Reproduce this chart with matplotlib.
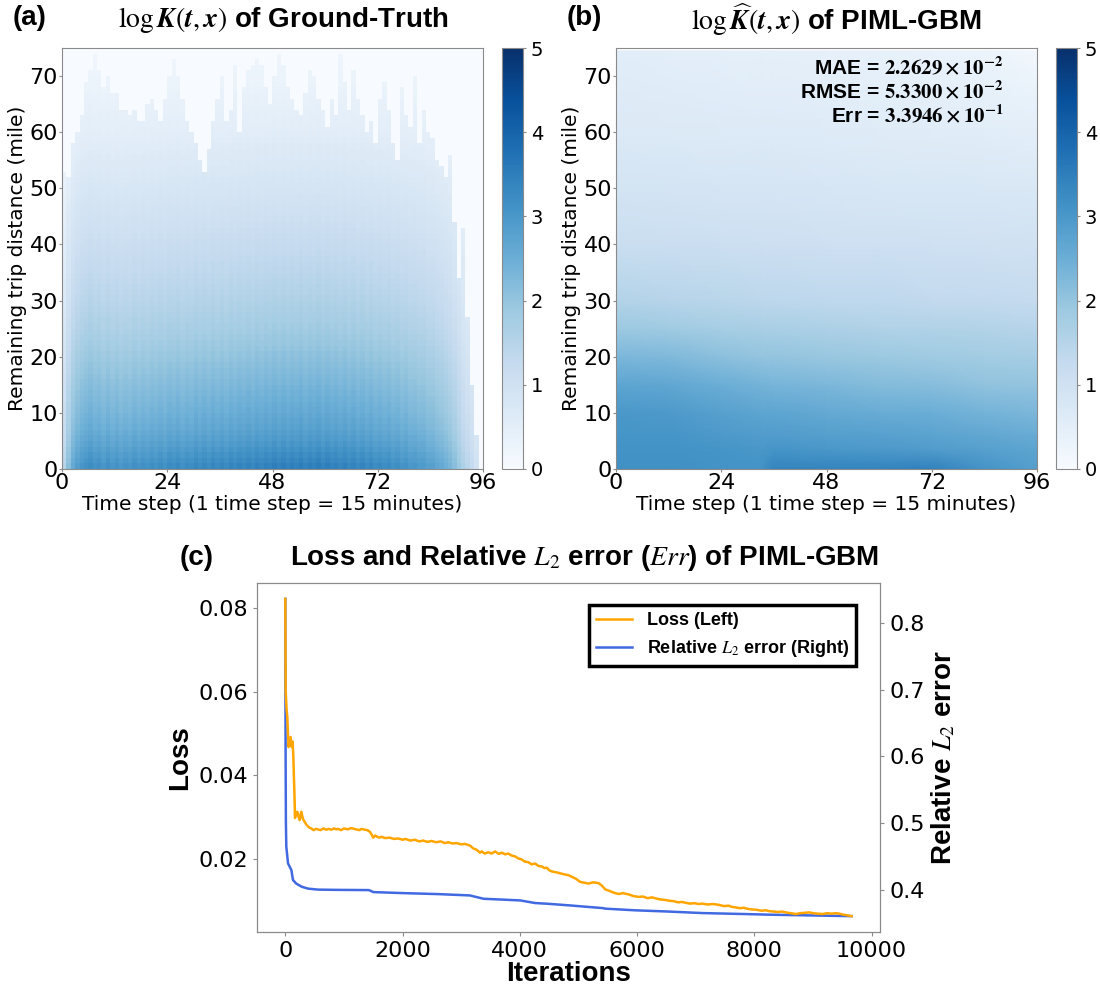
import numpy as np
import matplotlib
matplotlib.use("Agg")
from matplotlib import pyplot as plt

plt.rcParams['mathtext.fontset'] = 'stix'
plt.rcParams['font.family'] = ['DejaVu Sans']

# ---- (a) ground truth: column extents, column strength, row profile ----
gt_top = [53, 52, 58, 60, 63, 69, 71, 74, 71, 68,
          70, 67, 67, 64, 64, 63, 64, 62, 62, 65,
          66, 64, 62, 66, 70, 73, 70, 66, 62, 60,
          58, 55, 53, 57, 62, 66, 70, 62, 64, 72,
          60, 68, 71, 72, 73, 72, 68, 65, 70, 74,
          72, 68, 66, 64, 63, 67, 71, 70, 66, 64,
          61, 66, 63, 74, 69, 64, 71, 66, 63, 60,
          62, 58, 66, 69, 64, 58, 55, 68, 63, 61,
          70, 58, 64, 60, 59, 55, 54, 52, 56, 44,
          34, 43, 27, 15, 6, 0]
gt_scale = [0.45, 0.65, 0.80, 0.88, 0.93, 0.96, 0.99, 0.95, 0.97, 0.93,
            0.97, 0.93, 0.96, 0.92, 0.95, 0.93, 0.97, 0.94, 0.97, 0.95,
            0.98, 0.96, 0.99, 0.96, 1.00, 0.98, 1.01, 0.97, 1.00, 0.98,
            1.02, 0.99, 1.02, 0.99, 1.03, 1.00, 1.03, 1.00, 1.04, 1.01,
            1.04, 1.02, 1.05, 1.02, 1.06, 1.03, 1.06, 1.04, 1.07, 1.04,
            1.07, 1.04, 1.07, 1.05, 1.08, 1.04, 1.07, 1.05, 1.08, 1.04,
            1.07, 1.04, 1.06, 1.03, 1.06, 1.02, 1.05, 1.01, 1.04, 1.00,
            1.03, 0.99, 1.01, 0.98, 1.00, 0.96, 0.98, 0.94, 0.96, 0.92,
            0.93, 0.90, 0.90, 0.86, 0.86, 0.82, 0.80, 0.76, 0.72, 0.66,
            0.58, 0.50, 0.44, 0.38, 0.30, 0.0]
gt_row = [3.25, 3.15, 3.05, 2.95, 2.85, 2.76, 2.68, 2.61, 2.55, 2.49,
          2.44, 2.39, 2.34, 2.29, 2.24, 2.19, 2.14, 2.09, 2.04, 1.99,
          1.94, 1.89, 1.84, 1.79, 1.74, 1.70, 1.66, 1.62, 1.58, 1.54,
          1.50, 1.46, 1.43, 1.39, 1.36, 1.32, 1.29, 1.25, 1.22, 1.18,
          1.15, 1.11, 1.08, 1.04, 1.01, 0.97, 0.94, 0.90, 0.87, 0.83,
          0.80, 0.77, 0.74, 0.71, 0.68, 0.65, 0.62, 0.59, 0.56, 0.53,
          0.50, 0.475, 0.45, 0.425, 0.40, 0.375, 0.35, 0.325, 0.30, 0.275,
          0.25, 0.24, 0.23, 0.22, 0.21]

# ---- (b) PIML-GBM prediction on a coarse grid ----
pred_t = [0, 12, 24, 33, 36, 48, 60, 72, 84, 96]
pred_x = [0, 3.5, 6, 10, 15, 20, 25, 30, 40, 50, 60, 74.5]
pred_vals = [
    [3.15, 3.15, 3.10, 3.10, 3.40, 3.40, 3.40, 3.45, 3.10, 2.85],
    [3.10, 3.10, 3.05, 3.00, 3.05, 3.00, 2.95, 2.90, 2.80, 2.70],
    [3.05, 3.05, 2.95, 2.90, 2.90, 2.85, 2.80, 2.75, 2.65, 2.55],
    [3.00, 2.95, 2.80, 2.70, 2.70, 2.60, 2.55, 2.50, 2.40, 2.30],
    [2.70, 2.65, 2.50, 2.40, 2.35, 2.30, 2.20, 2.15, 2.05, 2.00],
    [2.30, 2.25, 2.10, 2.00, 2.00, 1.95, 1.90, 1.85, 1.80, 1.75],
    [1.90, 1.85, 1.75, 1.70, 1.70, 1.65, 1.60, 1.60, 1.55, 1.50],
    [1.55, 1.50, 1.45, 1.40, 1.40, 1.35, 1.35, 1.30, 1.30, 1.25],
    [1.15, 1.12, 1.10, 1.08, 1.08, 1.05, 1.05, 1.02, 1.00, 1.00],
    [0.90, 0.88, 0.85, 0.85, 0.85, 0.82, 0.80, 0.80, 0.78, 0.75],
    [0.70, 0.68, 0.66, 0.65, 0.65, 0.63, 0.60, 0.58, 0.55, 0.50],
    [0.55, 0.50, 0.47, 0.45, 0.45, 0.42, 0.40, 0.35, 0.28, 0.15],
]
metric_names = ["MAE", "RMSE", "Err"]
metric_vals = [r"2.2629\times10^{-2}", r"5.3300\times10^{-2}", r"3.3946\times10^{-1}"]

# ---- (c) training curves ----
loss_iter = [0, 3, 6, 20, 34, 45, 57, 70, 91, 100, 114, 125, 137, 150, 160, 165,
             185, 205, 225, 245, 260, 273,
             300, 330, 360, 380, 410, 444, 480, 520, 550, 600, 650, 700, 740, 786,
             830, 870, 900, 950, 1000, 1071, 1120, 1200, 1260, 1300, 1356, 1400,
             1442, 1470, 1499, 1530, 1560, 1600, 1641, 1700, 1780, 1850, 1926, 2000,
             2050, 2130, 2211, 2280, 2350, 2420, 2496, 2570, 2650, 2720, 2781, 2850,
             2920, 3000, 3066, 3150, 3208, 3250, 3280, 3320, 3350, 3400, 3464, 3520,
             3578, 3640, 3692, 3750, 3800, 3863, 3920, 3977, 4030, 4080, 4148, 4200,
             4260, 4320, 4376, 4420, 4460, 4500, 4547, 4620, 4700, 4760, 4832, 4890,
             4950, 5000, 5031, 5100, 5174, 5250, 5345, 5400, 5458, 5520, 5570, 5630,
             5686, 5760, 5857, 5940, 6028, 6100, 6180, 6256, 6330, 6400, 6470, 6541,
             6620, 6700, 6760, 6826, 6900, 6980, 7050, 7111, 7200, 7300, 7396, 7480,
             7560, 7620, 7681, 7750, 7820, 7900, 7966, 8050, 8120, 8200, 8251, 8330,
             8400, 8470, 8536, 8620, 8707, 8780, 8860, 8935, 9000, 9080, 9162, 9240,
             9310, 9390, 9450, 9500, 9580, 9660]
loss_val = [0.0822, 0.0700, 0.0603, 0.0560, 0.0539, 0.0500, 0.0467, 0.0485, 0.0491, 0.0470,
            0.0467, 0.0480, 0.0443, 0.0380, 0.0332, 0.0297, 0.0310, 0.0312, 0.0300, 0.0292,
            0.0305, 0.0312,
            0.0295, 0.0288, 0.0281, 0.0278, 0.0274, 0.0272, 0.0268, 0.0271, 0.0270, 0.0268,
            0.0272, 0.0269, 0.0271, 0.0269, 0.0272, 0.0270, 0.0271, 0.0268, 0.0272, 0.0270,
            0.0273, 0.0270, 0.0268, 0.0271, 0.0269, 0.0268, 0.0264, 0.0258, 0.0250, 0.0255,
            0.0253, 0.0250, 0.0252, 0.0249, 0.0250, 0.0247, 0.0248, 0.0245, 0.0247, 0.0243,
            0.0245, 0.0241, 0.0243, 0.0240, 0.0242, 0.0239, 0.0241, 0.0237, 0.0239, 0.0236,
            0.0237, 0.0234, 0.0235, 0.0231, 0.0224, 0.0222, 0.0219, 0.0214, 0.0217, 0.0212,
            0.0215, 0.0212, 0.0217, 0.0211, 0.0214, 0.0210, 0.0212, 0.0207, 0.0205, 0.0200,
            0.0198, 0.0193, 0.0191, 0.0186, 0.0188, 0.0182, 0.0181, 0.0177, 0.0178, 0.0172,
            0.0169, 0.0167, 0.0164, 0.0162, 0.0160, 0.0156, 0.0152, 0.0147, 0.0144, 0.0142,
            0.0140, 0.0143, 0.0141, 0.0135, 0.0126, 0.0123, 0.0120, 0.0117, 0.0115, 0.0117,
            0.0114, 0.0110, 0.0108, 0.0109, 0.0105, 0.0107, 0.0104, 0.0102, 0.0101, 0.0099,
            0.0098, 0.0095, 0.0096, 0.0094, 0.0092, 0.0093, 0.0091, 0.0092, 0.0090, 0.0091,
            0.0089, 0.0086, 0.0087, 0.0084, 0.0083, 0.0081, 0.0082, 0.0079, 0.0078, 0.0077,
            0.0075, 0.0076, 0.0074, 0.0073, 0.0072, 0.0073, 0.0071, 0.0069, 0.0067, 0.0069,
            0.0070, 0.0071, 0.0069, 0.0068, 0.0067, 0.0069, 0.0068, 0.0069, 0.0068, 0.0066,
            0.0064, 0.0062]
err_iter = [0, 2, 5, 10, 17, 46, 103, 131, 188, 280, 387, 558, 900, 1425, 1503, 2000,
            2600, 3147, 3382, 3692, 4008, 4262, 4477, 4832, 5417, 5458, 5971, 6500,
            7111, 7800, 8251, 9000, 9660]
err_val = [0.836, 0.700, 0.600, 0.500, 0.465, 0.440, 0.430, 0.415, 0.4096, 0.405, 0.4022,
           0.4007, 0.4003, 0.4000, 0.3970, 0.3955, 0.3940, 0.3920, 0.3870, 0.3858, 0.3845,
           0.3806, 0.3795, 0.3772, 0.3730, 0.3722, 0.3697, 0.3680, 0.3656, 0.3642, 0.3632,
           0.3620, 0.3610]

W, H = 1100, 986
fig = plt.figure(figsize=(W / 100, H / 100), dpi=100)
GRAY = '#8a8a8a'


def box(l, t, r, b):
    return [l / W, 1 - b / H, (r - l) / W, (b - t) / H]


def style_heat(ax):
    for s in ax.spines.values():
        s.set_color(GRAY)
    ax.set_xlim(0, 96)
    ax.set_ylim(0, 75)
    ax.set_xticks([0, 24, 48, 72, 96])
    ax.set_yticks(range(0, 71, 10))
    ax.tick_params(labelsize=16, length=2, color=GRAY, pad=1)
    ax.set_xlabel("Time step (1 time step = 15 minutes)", fontsize=14.5, labelpad=1)
    ax.set_ylabel("Remaining trip distance (mile)", fontsize=14.5, labelpad=2)


def add_cbar(im, rect):
    cax = fig.add_axes(rect)
    cb = fig.colorbar(im, cax=cax, ticks=range(6))
    cb.outline.set_edgecolor(GRAY)
    cax.tick_params(labelsize=14, length=2, color=GRAY)


# (a)
top = np.array(gt_top)
rows = np.arange(len(gt_row)) + 0.5
grid = np.outer(gt_row, gt_scale)
grid[rows[:, None] > top[None, :]] = 0
ax_a = fig.add_axes(box(62, 48, 483, 469))
im_a = ax_a.imshow(grid, origin='lower', extent=[0, 96, 0, 75], aspect='auto',
                   cmap='Blues', vmin=0, vmax=5, interpolation='nearest')
style_heat(ax_a)
add_cbar(im_a, box(502, 48, 523, 469))

# (b)
ax_b = fig.add_axes(box(616, 48, 1037, 469))
im_b = ax_b.pcolormesh(pred_t, pred_x, np.array(pred_vals), shading='gouraud',
                       cmap='Blues', vmin=0, vmax=5)
style_heat(ax_b)
add_cbar(im_b, box(1056, 48, 1077, 469))
for i, (n, v) in enumerate(zip(metric_names, metric_vals)):
    ax_b.text(0.92, 0.955 - i * 0.057, n + r" = $\mathbf{" + v + "}$",
              transform=ax_b.transAxes, ha='right', va='center', fontsize=15,
              family='Liberation Sans', weight='bold')

tkw = dict(fontsize=20, family='Liberation Sans', weight='bold', ha='center', va='center')
fig.text(283 / W, 1 - 20 / H,
         r"$\log\mathbfit{K}(\mathbfit{t},\mathbfit{x})$ of Ground-Truth", **tkw)
fig.text(836 / W, 1 - 20 / H,
         r"$\log\widehat{\mathbfit{K}}(\mathbfit{t},\mathbfit{x})$ of PIML-GBM", **tkw)
fig.text(30 / W, 1 - 18 / H, "(a)", **tkw)
fig.text(584 / W, 1 - 18 / H, "(b)", **tkw)
fig.text(197 / W, 1 - 558 / H, "(c)", **tkw)
fig.text(585 / W, 1 - 558 / H,
         r"Loss and Relative $L_2$ error ($Err$) of PIML-GBM", **tkw)

# (c)
ax_c = fig.add_axes(box(257, 583, 880, 932))
ax_r = ax_c.twinx()
l1, = ax_c.plot(loss_iter, loss_val, color='orange', lw=1.8, label='Loss (Left)')
l2, = ax_r.plot(err_iter, err_val, color='royalblue', lw=1.8,
                label=r'Relative $L_2$ error (Right)')
ax_c.set_zorder(ax_r.get_zorder() + 1)
ax_c.patch.set_visible(False)
for a in (ax_c, ax_r):
    for s in a.spines.values():
        s.set_color(GRAY)
    a.tick_params(labelsize=16, length=3, color=GRAY)
ax_c.set_ylabel("Loss", fontsize=20, weight='bold', family='Liberation Sans')
ax_c.set_xlabel("Iterations", fontsize=20, weight='bold', family='Liberation Sans',
                labelpad=0)
ax_r.set_ylabel(r"Relative $L_2$ error", fontsize=20, weight='bold',
                family='Liberation Sans')
leg = ax_c.legend(handles=[l1, l2], loc='upper right', bbox_to_anchor=(0.976, 0.963),
                  fancybox=False, framealpha=1, edgecolor='black',
                  prop=dict(family='Liberation Sans', weight='bold', size=13))
leg.get_frame().set_linewidth(2.5)

fig.savefig("out.png", dpi=100)
